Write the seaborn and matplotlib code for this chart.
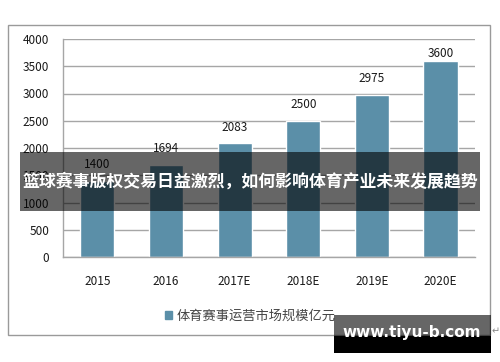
import matplotlib
matplotlib.use('Agg')
import matplotlib.pyplot as plt
import seaborn as sns
import pandas as pd
from matplotlib.patches import Rectangle

# chart data
years = ['2015', '2016', '2017E', '2018E', '2019E', '2020E']
market_size = [1400, 1694, 2083, 2500, 2975, 3600]
series_name = '体育赛事运营市场规模亿元'
banner_title = '篮球赛事版权交易日益激烈，如何影响体育产业未来发展趋势'
watermark = 'www.tiyu-b.com'

W, H = 500, 362

sns.set_style('white')
plt.rcParams['font.family'] = ['Noto Sans CJK SC', 'DejaVu Sans']

df = pd.DataFrame({'year': years, 'value': market_size})

fig = plt.figure(figsize=(W / 100, H / 100), dpi=100)


def fx(px):
    return px / W


def fy(py):
    return 1 - py / H


# outer chart frame
fig.patches.append(Rectangle((fx(8), fy(335)), fx(490) - fx(8), fy(25) - fy(335),
                             transform=fig.transFigure, fill=False,
                             edgecolor='#9a9a9a', linewidth=1.0, zorder=0))

ax = fig.add_axes([fx(63), fy(257), fx(475) - fx(63), fy(39) - fy(257)])
bar_color = '#5B8FA8'
sns.barplot(data=df, x='year', y='value', color=bar_color, width=0.5,
            saturation=1, ax=ax, zorder=2)

ax.set_ylim(0, 4000)
ax.set_yticks(range(0, 4001, 500))
ax.yaxis.grid(True, color='#a6a6a6', linewidth=1.0, zorder=0)
ax.set_axisbelow(True)
ax.set_xlabel('')
ax.set_ylabel('')
for side in ['top', 'right']:
    ax.spines[side].set_visible(False)
for side in ['left', 'bottom']:
    ax.spines[side].set_color('#a6a6a6')
    ax.spines[side].set_linewidth(1.0)
ax.tick_params(axis='y', length=0, pad=10, labelsize=8.5, labelcolor='#1a1a1a')
ax.tick_params(axis='x', length=0, pad=13, labelsize=8.5, labelcolor='#1a1a1a')

# value labels; the top one sits close to the bar because of the plot ceiling
n = len(market_size)
ax.bar_label(ax.containers[0], labels=[str(v) for v in market_size[:-1]] + [''],
             padding=7, fontsize=8.5, color='#1a1a1a')
ax.bar_label(ax.containers[0], labels=[''] * (n - 1) + [str(market_size[-1])],
             padding=0.5, fontsize=8.5, color='#1a1a1a')

# legend below the plot
ax.legend(handles=[Rectangle((0, 0), 1, 1, color=bar_color)], labels=[series_name],
          loc='center', bbox_to_anchor=(fx(250), fy(316)),
          bbox_transform=fig.transFigure, frameon=False, fontsize=9.5,
          handlelength=0.6, handleheight=0.6, handletextpad=0.3,
          labelcolor='#444444')

# dark banner across the middle
fig.patches.append(Rectangle((fx(20), fy(211)), fx(480) - fx(20), fy(152) - fy(211),
                             transform=fig.transFigure, facecolor='black',
                             alpha=0.6, edgecolor='none', zorder=10))
fig.text(fx(250), fy(182), banner_title, color='white', fontsize=12.2,
         fontweight='bold', ha='center', va='center', zorder=11)

# watermark box bottom right
fig.patches.append(Rectangle((fx(334), fy(336)), fx(491) - fx(334), fy(315) - fy(336),
                             transform=fig.transFigure, facecolor='black',
                             alpha=0.6, edgecolor='none', zorder=10))
fig.patches.append(Rectangle((fx(334), fy(353)), fx(491) - fx(334), fy(336) - fy(353),
                             transform=fig.transFigure, facecolor='black',
                             edgecolor='none', zorder=10))
fig.text(fx(412), fy(333), watermark, color='white', fontsize=11,
         fontweight='bold', ha='center', va='center', zorder=11,
         family=['DejaVu Sans'])
fig.text(fx(496), fy(331), '↵', color='#888888', fontsize=7,
         ha='center', va='center', family=['DejaVu Sans'])

fig.savefig('out.png', dpi=100, facecolor='white')
